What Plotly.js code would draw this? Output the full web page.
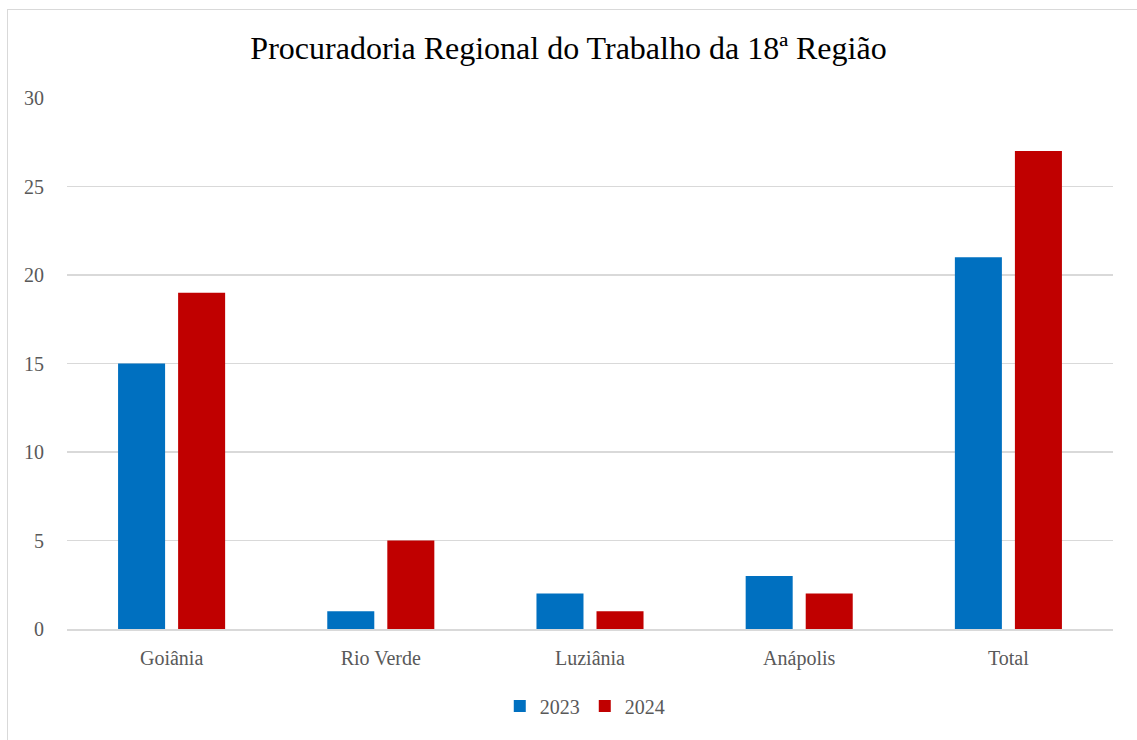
<!DOCTYPE html>
<html><head><meta charset="utf-8">
<script src="https://cdn.plot.ly/plotly-3.0.1.min.js"></script>
<style>
html,body{margin:0;padding:0;background:#fff;overflow:hidden;}
#frame{position:absolute;left:7px;top:9px;width:1140px;height:740px;border:1.5px solid #d9d9d9;box-sizing:border-box;}
#chart{position:absolute;left:0;top:0;width:1137px;height:740px;}
</style></head>
<body>
<div id="frame"></div>
<div id="chart"></div>
<script>
const categories = ["Goiânia", "Rio Verde", "Luziânia", "Anápolis", "Total"];
const values2023 = [15, 1, 2, 3, 21];
const values2024 = [19, 5, 1, 2, 27];
const yTicks = [0, 5, 10, 15, 20, 25, 30];
const FONT = "'Liberation Serif', 'DejaVu Serif', serif";

const traces = [
  {type:'bar', name:'2023', x:categories, y:values2023, marker:{color:'#0070c0'}},
  {type:'bar', name:'2024', x:categories, y:values2024, marker:{color:'#c00000'}}
];
const layout = {
  width:1137, height:740,
  paper_bgcolor:'rgba(0,0,0,0)', plot_bgcolor:'rgba(0,0,0,0)',
  margin:{l:67, r:24, t:98, b:111},
  font:{family:FONT, color:'#595959', size:20},
  title:{text:'Procuradoria Regional do Trabalho da 18ª Região', font:{family:FONT, size:32, color:'#000'}, x:0.5, xanchor:'center', y:0.935, yanchor:'middle'},
  barmode:'group', bargap:0.426, bargroupgap:0.217,
  xaxis:{tickfont:{size:20, color:'#595959'}, showline:true, linecolor:'#d9d9d9', linewidth:1.5, ticks:'', showgrid:false, ticklabelstandoff:10},
  yaxis:{range:[0,30], tickvals:yTicks, tickfont:{size:20, color:'#595959'}, gridcolor:'#d9d9d9', gridwidth:1.5, zeroline:false, showline:false, ticks:'', ticklabelstandoff:22},
  legend:{orientation:'h', x:0.495, xanchor:'center', y:-0.145, yanchor:'middle', font:{size:20, color:'#595959'}, itemwidth:30, tracegroupgap:0},
  showlegend:true
};
Plotly.newPlot('chart', traces, layout, {displayModeBar:false, staticPlot:true});
</script>
</body></html>
